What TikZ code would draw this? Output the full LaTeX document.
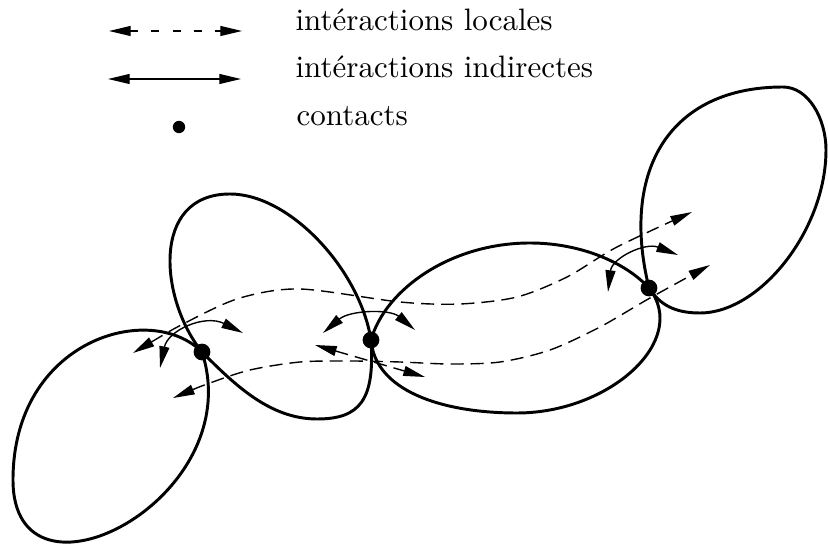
\documentclass[tikz,border=0pt]{standalone}
\usepackage{amsmath, amssymb}
\usepackage{tikz}
\usetikzlibrary{calc,arrows.meta,positioning}

\begin{document}
\begin{tikzpicture}[x=0.3226pt,y=-0.3226pt]

\tikzset{contact/.style={fill=black,draw=none,inner sep=0pt,minimum size=5.4pt,shape=circle},
lobe/.style={line width=0.95pt,line join=round},
locale/.style={line width=0.45pt,dash pattern=on 4.2pt off 2.3pt,{Triangle[length=7pt,width=3.2pt]}-{Triangle[length=7pt,width=3.2pt]}},
indirecte/.style={line width=0.45pt,{Triangle[length=7pt,width=3.2pt]}-{Triangle[length=7pt,width=3.2pt]}},
legend/.style={anchor=base west,inner sep=0pt}}

\useasboundingbox (0,0) rectangle (828,552);

% Legend
\coordinate (la) at (109,31); \coordinate (lb) at (242,31);
\coordinate (ia) at (108,79); \coordinate (ib) at (241,79);
\draw[locale,dash pattern=on 2.6pt off 4.2pt] (la) -- (lb);
\draw[indirecte] (ia) -- (ib);
\node[contact,minimum size=4pt] (lc) at (179,127) {};
\node[legend] (tl) at (295,31) {intéractions locales};
\node[legend] (ti) at (295,78) {intéractions indirectes};
\node[legend] (tc) at (296,126) {contacts};

% contact points
\coordinate (p1) at (202,352);
\coordinate (p2) at (371,340);
\coordinate (p3) at (649,288);

% Lobes
\draw[lobe] (p1) .. controls (150,300) and (13,340) .. (13,480)
  .. controls (13,620) and (250,500) .. (p1);
\draw[lobe] (p1) .. controls (160,300) and (150,194) .. (230,194)
  .. controls (290,194) and (360,270) .. (p2)
  .. controls (375,400) and (360,419) .. (317,419)
  .. controls (270,419) and (235,385) .. (p1);
\draw[lobe] (p2) .. controls (385,290) and (450,243) .. (530,243)
  .. controls (580,243) and (625,262) .. (p3)
  .. controls (690,340) and (610,413) .. (517,413)
  .. controls (440,413) and (375,390) .. (p2);
\draw[lobe] (p3) .. controls (620,170) and (670,87) .. (783,87)
  .. controls (808,87) and (826,118) .. (826,150)
  .. controls (826,230) and (760,313) .. (700,313)
  .. controls (675,313) and (660,305) .. (p3);

% Contacts
\foreach \i in {1,2,3} \node[contact] (c\i) at (p\i) {};

% Local arcs
\coordinate (a1) at (160,368); \coordinate (b1) at (243,333);
\coordinate (a2) at (323,333); \coordinate (b2) at (415,330);
\coordinate (a3) at (608,292); \coordinate (b3) at (678,255);
\draw[indirecte] (a1) .. controls (168,330) and (205,314) .. (b1);
\draw[indirecte] (a2) .. controls (350,310) and (390,309) .. (b2);
\draw[indirecte] (a3) .. controls (612,258) and (645,242) .. (b3);

% Long range
\coordinate (u1) at (133,353); \coordinate (u2) at (692,212);
\coordinate (v1) at (173,398); \coordinate (v2) at (710,265);
\coordinate (w1) at (315,345); \coordinate (w2) at (425,377);
\draw[locale] plot[smooth] coordinates {(u1) (187,322) (240,298) (300,289) (400,302) (460,304) (517,297) (567,277) (617,247) (u2)};
\draw[locale] plot[smooth] coordinates {(v1) (210,383) (250,370) (300,362) (350,361) (400,362) (450,364) (500,362) (550,350) (600,327) (650,298) (v2)};
\draw[locale] (w1) -- (w2);

\end{tikzpicture}
\end{document}
